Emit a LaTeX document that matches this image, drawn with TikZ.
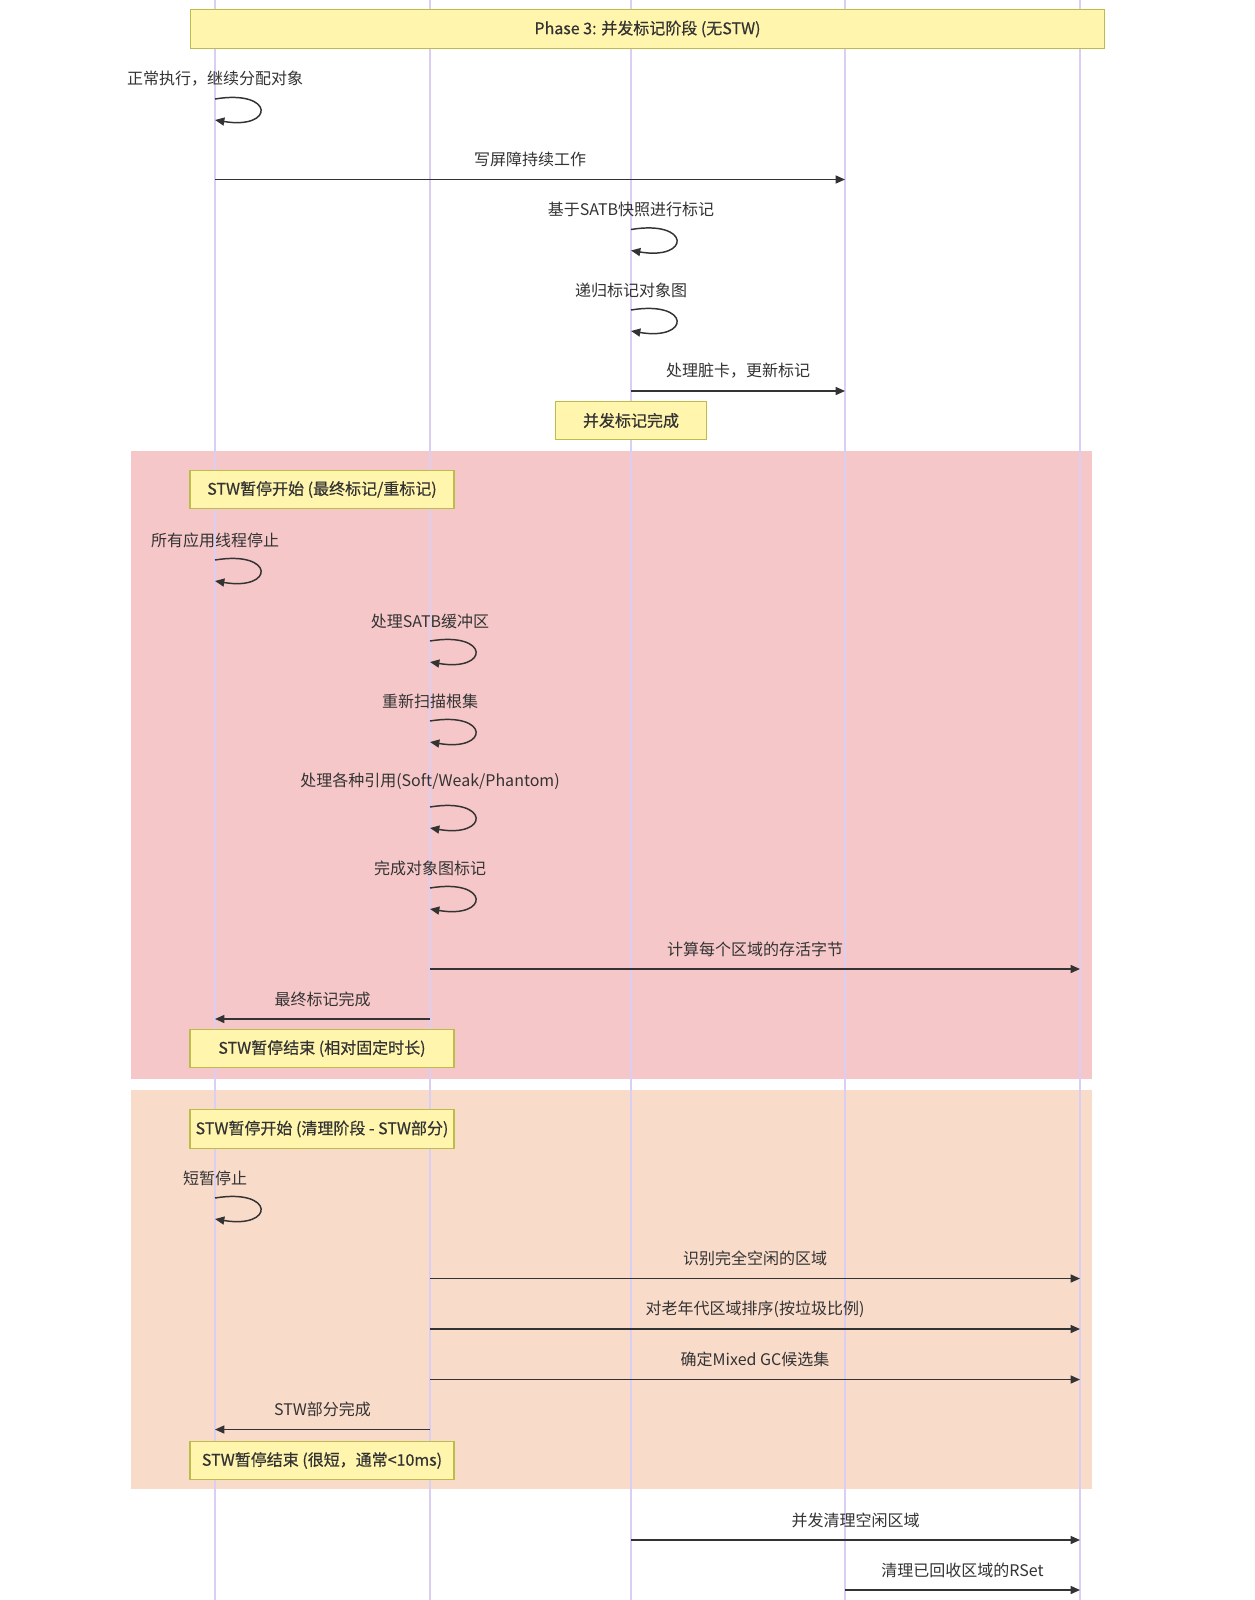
\documentclass[tikz,border=0pt]{standalone}
\usepackage{fontspec}
\setmainfont{Noto Sans CJK SC}
\newfontfamily\notefont[FakeBold=0.5]{Noto Sans CJK SC}
\usetikzlibrary{arrows.meta}
\definecolor{lifecol}{HTML}{DACEF3}
\definecolor{notefill}{HTML}{FFF5AD}
\definecolor{noteline}{HTML}{BDBB4A}
\definecolor{msgcol}{HTML}{333333}
\definecolor{stwred}{HTML}{F6C7C8}
\definecolor{stwpeach}{HTML}{F9DBCA}

\begin{document}
\begin{tikzpicture}[x=0.75pt,y=-0.75pt,
lifeline/.style={draw=lifecol,line width=1pt},
note/.style={draw=noteline,fill=notefill,line width=0.8pt,text=msgcol,
  font=\notefont\fontsize{12}{14}\selectfont,minimum height=29pt,inner sep=2pt},
msg/.style={-{Triangle[length=7pt,width=6pt]},line width=1.1pt,draw=msgcol},
lbl/.style={font=\fontsize{12}{14}\selectfont,text=msgcol,yshift=15pt}]
\fill[white] (0,0) rectangle (1254,1600);
\useasboundingbox (0,0) rectangle (1254,1600);
% STW regions
\fill[stwred] (131,451) rectangle (1092,1079);
\fill[stwpeach] (131,1090) rectangle (1092,1489);
% lifelines
\foreach \n/\x in {app/215,stw/430,mark/631,barrier/845,region/1080}
  \coordinate (\n) at (\x,0);
\foreach \n in {app,stw,mark,barrier,region}
  \draw[lifeline] (\n) -- (\n |- 0,1600);
% notes
\node[note,minimum width=686pt] (phase) at (647.5,29) {Phase 3: 并发标记阶段 (无STW)};
\node[note,minimum width=113pt] (concdone) at (631,420.5) {并发标记完成};
\node[note,minimum width=198pt] (remarkbeg) at (322,489.5) {STW暂停开始 (最终标记/重标记)};
\node[note,minimum width=198pt] (remarkend) at (322,1048.5) {STW暂停结束 (相对固定时长)};
\node[note,minimum width=198pt] (cleanbeg) at (322,1129) {STW暂停开始 (清理阶段 - STW部分)};
\node[note,minimum width=198pt] (cleanend) at (322,1460.5) {STW暂停结束 (很短，通常<10ms)};
% concurrent marking
\draw[msg] (app |- 0,99) node[lbl]{正常执行，继续分配对象}
  .. controls +(60,-10) and +(60,10) .. (app |- 0,120);
\draw[msg] (app |- 0,179.5) -- node[lbl]{写屏障持续工作} (barrier |- 0,179.5);
\draw[msg] (mark |- 0,229.5) node[lbl]{基于SATB快照进行标记}
  .. controls +(60,-10) and +(60,10) .. (mark |- 0,250.5);
\draw[msg] (mark |- 0,310) node[lbl]{递归标记对象图}
  .. controls +(60,-10) and +(60,10) .. (mark |- 0,331);
\draw[msg] (mark |- 0,391) -- node[lbl]{处理脏卡，更新标记} (barrier |- 0,391);
% remark
\draw[msg] (app |- 0,560) node[lbl]{所有应用线程停止}
  .. controls +(60,-10) and +(60,10) .. (app |- 0,581);
\draw[msg] (stw |- 0,641) node[lbl]{处理SATB缓冲区}
  .. controls +(60,-10) and +(60,10) .. (stw |- 0,662);
\draw[msg] (stw |- 0,721) node[lbl]{重新扫描根集}
  .. controls +(60,-10) and +(60,10) .. (stw |- 0,742);
\draw[msg] (stw |- 0,807) node[lbl,yshift=4pt]{处理各种引用(Soft/Weak/Phantom)}
  .. controls +(60,-10) and +(60,10) .. (stw |- 0,828);
\draw[msg] (stw |- 0,888) node[lbl]{完成对象图标记}
  .. controls +(60,-10) and +(60,10) .. (stw |- 0,909);
\draw[msg] (stw |- 0,969) -- node[lbl]{计算每个区域的存活字节} (region |- 0,969);
\draw[msg] (stw |- 0,1019) -- node[lbl]{最终标记完成} (app |- 0,1019);
% cleanup
\draw[msg] (app |- 0,1198) node[lbl]{短暂停止}
  .. controls +(60,-10) and +(60,10) .. (app |- 0,1219);
\draw[msg] (stw |- 0,1278.5) -- node[lbl]{识别完全空闲的区域} (region |- 0,1278.5);
\draw[msg] (stw |- 0,1329) -- node[lbl]{对老年代区域排序(按垃圾比例)} (region |- 0,1329);
\draw[msg] (stw |- 0,1379.5) -- node[lbl]{确定Mixed GC候选集} (region |- 0,1379.5);
\draw[msg] (stw |- 0,1429.5) -- node[lbl]{STW部分完成} (app |- 0,1429.5);
\draw[msg] (mark |- 0,1540) -- node[lbl]{并发清理空闲区域} (region |- 0,1540);
\draw[msg] (barrier |- 0,1590) -- node[lbl]{清理已回收区域的RSet} (region |- 0,1590);
\end{tikzpicture}
\end{document}
